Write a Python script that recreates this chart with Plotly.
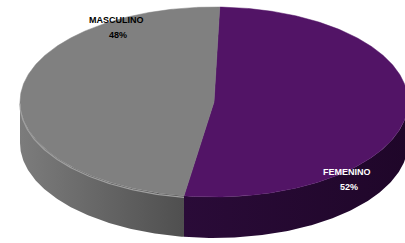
import numpy as np
import plotly.graph_objects as go

# ---- data ----
categories = ["FEMENINO", "MASCULINO"]
percent = [52, 48]
top_colors = ["#521466", "#808080"]
side_colors = [
    [[0, "#2a0b38"], [1, "#1f0629"]],
    [[0, "#7c7c7c"], [1, "#4f4f4f"]],
]
label_colors = ["white", "black"]

# ---- geometry of the 3D-looking pie (layout only) ----
W, H = 405, 243
cx, cy = 214, 102
a, b = 194, 95
depth = 41
start_deg = 1.7  # first slice starts just right of 12 o'clock, clockwise


def pt(theta_deg, dy=0.0):
    t = np.radians(theta_deg)
    return cx + a * np.sin(t), cy - b * np.cos(t) + dy


fig = go.Figure()

total = float(sum(percent))
bounds = []
ang = start_deg
for p in percent:
    span = 360.0 * p / total
    bounds.append((ang, ang + span))
    ang += span

# side walls (front half: 90..270 deg)
for i, (t0, t1) in enumerate(bounds):
    for shift in (0, 360, -360):
        lo = max(t0 + shift, 90)
        hi = min(t1 + shift, 270)
        if hi <= lo:
            continue
        th = np.linspace(lo, hi, 120)
        xt, yt = pt(th)
        xb, yb = pt(th[::-1], depth)
        xs = np.concatenate([xt, xb, xt[:1]])
        ys = np.concatenate([yt, yb, yt[:1]])
        fig.add_trace(go.Scatter(
            x=xs, y=ys, mode="lines", fill="toself",
            line=dict(width=0, color=side_colors[i][1][1]),
            fillgradient=dict(type="horizontal", colorscale=side_colors[i]),
            hoverinfo="skip", showlegend=False))

# top faces
for i, (t0, t1) in enumerate(bounds):
    th = np.linspace(t0, t1, 300)
    xe, ye = pt(th)
    xs = np.concatenate([[cx], xe, [cx]])
    ys = np.concatenate([[cy], ye, [cy]])
    fig.add_trace(go.Scatter(
        x=xs, y=ys, mode="lines", fill="toself", fillcolor=top_colors[i],
        line=dict(width=0.5, color=top_colors[i]),
        name=categories[i], hoverinfo="name", showlegend=False))

# subtle highlight on the gray rim
t0, t1 = bounds[1]
th = np.linspace(max(t0, 90), 270, 120)
xh, yh = pt(th, 1.5)
fig.add_trace(go.Scatter(x=xh, y=yh, mode="lines",
                         line=dict(width=1.2, color="#a0a0a0"),
                         hoverinfo="skip", showlegend=False))

# labels
label_pos = [(347, 172), (116, 20)]
for i, cat in enumerate(categories):
    lx, ly = label_pos[i]
    fig.add_annotation(x=lx, y=ly, text=f"<b>{cat}</b>", showarrow=False,
                       font=dict(family="Liberation Sans Narrow, Liberation Sans, Arial",
                                 size=9, color=label_colors[i]))
    fig.add_annotation(x=lx + 2, y=ly + 15, text=f"<b>{percent[i]}%</b>", showarrow=False,
                       font=dict(family="Liberation Sans Narrow, Liberation Sans, Arial",
                                 size=9, color=label_colors[i]))

fig.update_layout(
    width=W, height=H,
    margin=dict(l=0, r=0, t=0, b=0),
    paper_bgcolor="white", plot_bgcolor="white",
    xaxis=dict(range=[0, W], visible=False, fixedrange=True),
    yaxis=dict(range=[H, 0], visible=False, fixedrange=True),
    hovermode=False,
)

fig.write_html("out.html", config={"displayModeBar": False},
               post_script="document.body.style.margin='0';document.body.style.overflow='hidden';")
